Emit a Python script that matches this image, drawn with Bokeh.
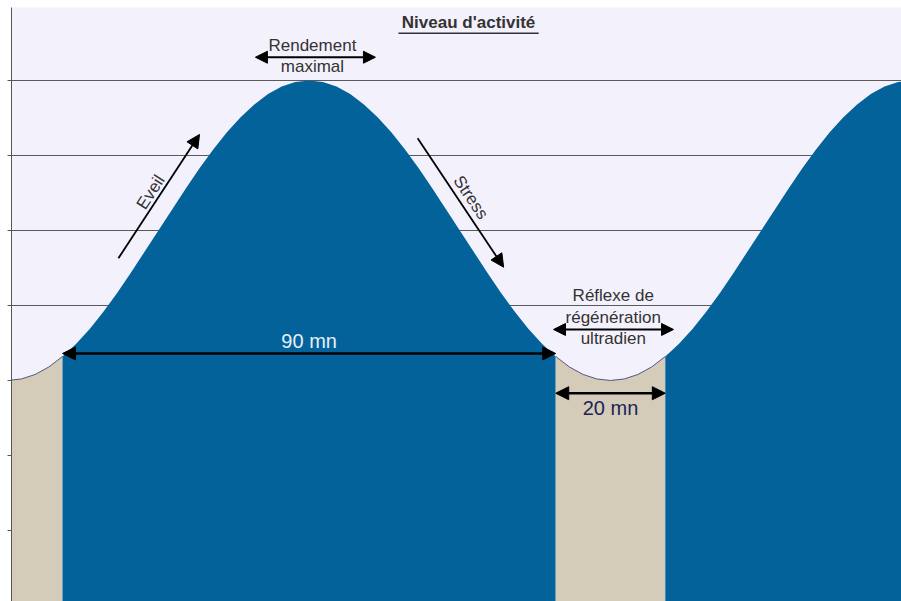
from bokeh.plotting import figure
from bokeh.models import Range1d, FixedTicker, Label, Arrow, NormalHead, CustomJSTickFormatter
from bokeh.embed import file_html
from bokeh.resources import INLINE

# activity level, every 2.5 minutes from 0 to 165
activity = [3.00, 3.02, 3.08, 3.18, 3.32, 3.49, 3.69, 3.92, 4.17, 4.44, 4.72,
            5.00, 5.28, 5.56, 5.83, 6.08, 6.31, 6.51, 6.68, 6.82, 6.92, 6.98,
            7.00,
            6.98, 6.92, 6.82, 6.68, 6.51, 6.31, 6.08, 5.83, 5.56, 5.28, 5.00,
            4.72, 4.44, 4.17, 3.92, 3.69, 3.49, 3.32, 3.18, 3.08, 3.02, 3.00,
            3.02, 3.08, 3.18, 3.32, 3.49, 3.69, 3.92, 4.17, 4.44, 4.72, 5.00,
            5.28, 5.56, 5.83, 6.08, 6.31, 6.51, 6.68, 6.82, 6.92, 6.98, 7.00]
minutes = [i * 2.5 for i in range(len(activity))]

# phases: (start minute, end minute, kind)
phase_start = [0, 10, 100, 120]
phase_end = [10, 100, 120, 165]
phase_kind = ["rest", "active", "rest", "active"]
level_ticks = [1, 2, 3, 4, 5, 6, 7]
grid_levels = [4, 5, 6, 7]
active_span = 90
rest_span = 20

BLUE = "#04629b"
BEIGE = "#d5cbb9"
LAV = "#f3f1fc"
FONT = "Liberation Sans"

p = figure(width=901, height=601, x_range=Range1d(0.69, 163.1),
           y_range=Range1d(0.053, 7.973), output_backend="svg",
           toolbar_location=None, x_axis_location=None,
           min_border_left=11, min_border_right=0, min_border_top=7,
           min_border_bottom=0, background_fill_color=LAV,
           border_fill_color="white", outline_line_color=None)

p.xgrid.visible = False
p.yaxis.ticker = FixedTicker(ticks=level_ticks)
p.yaxis.formatter = CustomJSTickFormatter(code="return ''")
p.yaxis.major_label_standoff = 0
p.yaxis.major_tick_in = 0
p.yaxis.major_tick_out = 4
p.yaxis.minor_tick_line_color = None
p.yaxis.axis_line_color = "#555555"
p.yaxis.major_tick_line_color = "#555555"
p.ygrid.ticker = FixedTicker(ticks=grid_levels)
p.ygrid.grid_line_color = "#5a5a5a"
p.ygrid.grid_line_width = 1

for s, e, k in zip(phase_start, phase_end, phase_kind):
    xs = [m for m in minutes if s <= m <= e]
    ys = [a for m, a in zip(minutes, activity) if s <= m <= e]
    p.varea(x=xs, y1=[0] * len(xs), y2=ys,
            fill_color=BLUE if k == "active" else BEIGE)
    if k == "rest":
        p.line(xs, ys, line_color="#55557f", line_width=1)

def darrow(x0, y0, x1, y1, lw=2.5, size=13):
    p.add_layout(Arrow(start=NormalHead(size=size, fill_color="black", line_color="black"),
                       end=NormalHead(size=size, fill_color="black", line_color="black"),
                       x_start=x0, y_start=y0, x_end=x1, y_end=y1,
                       line_width=lw, line_color="black"))

def sarrow(x0, y0, x1, y1, lw=1.8, size=13):
    p.add_layout(Arrow(end=NormalHead(size=size, fill_color="black", line_color="black"),
                       x_start=x0, y_start=y0, x_end=x1, y_end=y1,
                       line_width=lw, line_color="black"))

def label(x, y, txt, size="17px", color="#333333", angle=0, bold=False):
    p.add_layout(Label(x=x, y=y, text=txt, text_font=FONT, text_font_size=size,
                       text_color=color, text_align="center", text_baseline="middle",
                       angle=angle, angle_units="deg",
                       text_font_style="bold" if bold else "normal"))

# 90 mn
darrow(phase_start[1], 3.36, phase_end[1], 3.36)
label((phase_start[1] + phase_end[1]) / 2, 3.53, f"{active_span} mn", size="20px", color="#e6eff7")
# 20 mn
darrow(phase_start[2], 2.83, phase_end[2], 2.83)
label((phase_start[2] + phase_end[2]) / 2, 2.63, f"{rest_span} mn", size="20px", color="#1c2456")

# Rendement maximal
darrow(45.2, 7.31, 67.1, 7.31, lw=2, size=12)
label(55.6, 7.47, "Rendement")
label(55.6, 7.18, "maximal")

# Réflexe de régénération ultradien
darrow(99.6, 3.68, 121.5, 3.68, lw=2, size=12)
label(110.5, 4.13, "Réflexe de")
label(110.5, 3.84, "régénération")
label(110.5, 3.56, "ultradien")

# Eveil
sarrow(20.2, 4.63, 35.0, 6.28)
label(26.1, 5.51, "Eveil", angle=57)
# Stress
sarrow(74.8, 6.23, 90.5, 4.51)
label(84.5, 5.44, "Stress", angle=-56)

# Title with underline
label(84.1, 7.77, "Niveau d'activité", bold=True)
p.line([71.3, 96.9], [7.63, 7.63], line_color="#333333", line_width=1.5)

open("out.html", "w").write(file_html(p, INLINE))
